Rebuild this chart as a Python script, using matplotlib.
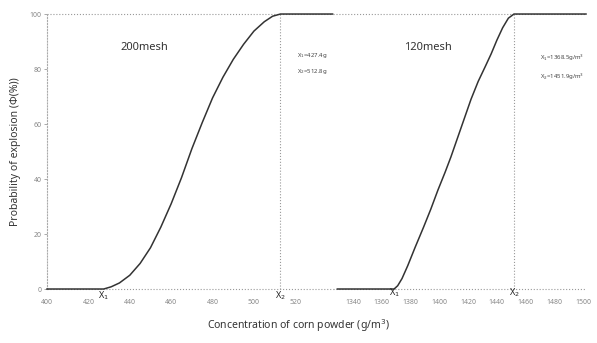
import matplotlib.pyplot as plt

# 200mesh corn powder: concentration (g/m3) vs probability of explosion (%)
c200 = [400, 427.4, 431, 435, 440, 445, 450, 455, 460, 465, 470, 475, 480,
        485, 490, 495, 500, 505, 509, 512.8, 538]
p200 = [0, 0, 0.8, 2.2, 5, 9.3, 15, 22.5, 31, 40.5, 51, 60.5, 69.5,
        77, 83.5, 89, 93.8, 97.2, 99.2, 100, 100]
x1_200, x2_200 = 427.4, 512.8

# 120mesh corn powder
c120 = [1329, 1368.5, 1371, 1374, 1378, 1383, 1389, 1394, 1399, 1404, 1408,
        1413, 1418, 1422, 1427, 1432, 1436, 1440, 1444, 1448, 1451.9, 1502]
p120 = [0, 0, 1.2, 3.8, 8.5, 15, 22.5, 29, 36, 42.5, 48,
        55.5, 63, 69, 75.5, 81, 85.5, 90.5, 95, 98.5, 100, 100]
x1_120, x2_120 = 1368.5, 1451.9

ticks_200 = [400, 420, 440, 460, 480, 500, 520]
ticks_120 = [1340, 1360, 1380, 1400, 1420, 1440, 1460, 1480, 1500]
yticks = [0, 20, 40, 60, 80, 100]

plt.rcParams['font.family'] = ['Noto Sans', 'DejaVu Sans']

fig = plt.figure(figsize=(5.97, 3.43), dpi=100)
ax1 = fig.add_axes([0.0787, 0.1574, 0.4791, 0.8017])
ax2 = fig.add_axes([0.5578, 0.1574, 0.4238, 0.8017])

line_kw = dict(color='#333333', lw=1.1, clip_on=False, zorder=3)
dot_kw = dict(color='#999999', lw=0.8, ls=':', clip_on=False, zorder=1)

ax1.plot(c200, p200, **line_kw)
ax2.plot(c120, p120, **line_kw)

for ax, lim, ticks in [(ax1, (400, 538.2), ticks_200), (ax2, (1326, 1502), ticks_120)]:
    ax.set_xlim(*lim)
    ax.set_ylim(0, 100)
    ax.axhline(0, **dot_kw)
    ax.axhline(100, **dot_kw)
    for s in ax.spines.values():
        s.set_visible(False)
    ax.set_xticks(ticks)
    ax.tick_params(axis='x', length=0, labelsize=5, colors='#888888', pad=7)
    ax.set_facecolor('none')

ax1.set_yticks(yticks)
ax1.tick_params(axis='y', length=2, width=0.5, labelsize=5, colors='#888888', pad=2)
ax1.spines['left'].set_visible(True)
ax1.spines['left'].set_linestyle(':')
ax1.spines['left'].set_color('#aaaaaa')
ax1.spines['left'].set_linewidth(0.8)
ax2.set_yticks([])

# vertical markers at the upper limit concentration
ax1.plot([x2_200, x2_200], [0, 100], **dot_kw)
ax2.plot([x2_120, x2_120], [0, 100], **dot_kw)

ax1.text(447, 88, '200mesh', fontsize=8, color='#333333', ha='center', va='center')
ax2.text(1392, 88, '120mesh', fontsize=8, color='#333333', ha='center', va='center')

ax1.text(521, 85, 'X$_1$=427.4g', fontsize=4.3, color='#444444', va='center')
ax1.text(521, 79, 'X$_2$=512.8g', fontsize=4.3, color='#444444', va='center')
ax2.text(1470, 84, 'X$_1$=1368.5g/m$^3$', fontsize=4.3, color='#444444', va='center')
ax2.text(1470, 77, 'X$_2$=1451.9g/m$^3$', fontsize=4.3, color='#444444', va='center')

mark_kw = dict(fontsize=6.5, color='#222222', ha='center', va='center')
ax1.text(x1_200, -2.3, 'X$_1$', **mark_kw)
ax1.text(x2_200, -2.3, 'X$_2$', **mark_kw)
ax2.text(x1_120, -1.5, 'X$_1$', **mark_kw)
ax2.text(x2_120, -1.5, 'X$_2$', **mark_kw)

ax1.set_ylabel('Probability of explosion (Φ(%))', fontsize=7.5, color='#333333', labelpad=6)
fig.text(0.5, 0.05, 'Concentration of corn powder (g/m$^3$)', fontsize=7.5,
         color='#333333', ha='center', va='center')

fig.savefig('out.png', dpi=100)
